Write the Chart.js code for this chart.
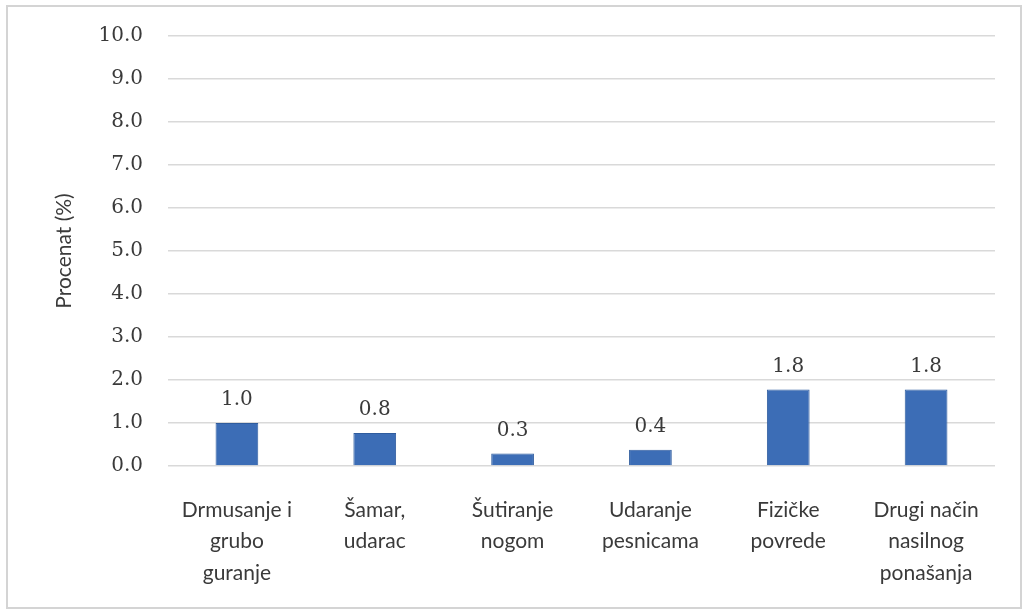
<!DOCTYPE html>
<html>
<head>
<meta charset="utf-8">
<script src="https://cdn.jsdelivr.net/npm/chart.js@4/dist/chart.umd.min.js"></script>
<style>
  html, body { margin: 0; padding: 0; background: #fff; }
  #frame {
    position: absolute; left: 6px; top: 5px;
    width: 1012px; height: 600px;
    border: 2px solid #d4d4d4;
  }
  #chart { display: block; }
</style>
</head>
<body>
<div id="frame"><canvas id="chart" width="1012" height="600"></canvas></div>
<script>
const categories = [
  ["Drmusanje i", "grubo", "guranje"],
  ["Šamar,", "udarac"],
  ["Šutiranje", "nogom"],
  ["Udaranje", "pesnicama"],
  ["Fizičke", "povrede"],
  ["Drugi način", "nasilnog", "ponašanja"]
];
const percentValues = [1.0, 0.77, 0.29, 0.38, 1.78, 1.78];
const yTicks = [0, 1, 2, 3, 4, 5, 6, 7, 8, 9, 10];

const textColor = "#3a3a3a";
const gridColor = "#d9d9d9";

// value labels drawn above each bar
const barLabels = {
  id: "barLabels",
  afterDatasetsDraw: chart => {
    const ctx = chart.ctx;
    const meta = chart.getDatasetMeta(0);
    ctx.save();
    ctx.font = "20px 'DejaVu Serif'";
    ctx.fillStyle = textColor;
    ctx.textAlign = "center";
    ctx.textBaseline = "bottom";
    meta.data.forEach((bar, i) => {
      ctx.fillText(percentValues[i].toFixed(1), bar.x, bar.y - 13);
    });
    ctx.restore();
  }
};

new Chart(document.getElementById("chart"), {
  type: "bar",
  data: {
    labels: categories,
    datasets: [{
      data: percentValues,
      backgroundColor: "#3c6db6",
      borderColor: "#2f5c9e",
      borderWidth: 1,
      barPercentage: 0.31,
      categoryPercentage: 1
    }]
  },
  options: {
    responsive: false,
    animation: false,
    layout: { padding: { left: 44, right: 25, top: 29, bottom: 0 } },
    plugins: {
      legend: { display: false },
      tooltip: { enabled: false }
    },
    scales: {
      x: {
        grid: { display: false, drawTicks: false },
        border: { display: false },
        ticks: {
          color: textColor,
          font: { family: "Lato", size: 21, lineHeight: 1.5 },
          padding: 28,
          maxRotation: 0,
          autoSkip: false
        },
        afterFit: scale => { scale.height = 141; }
      },
      y: {
        min: 0,
        max: 10,
        afterBuildTicks: scale => { scale.ticks = yTicks.map(v => ({ value: v })); },
        grid: { color: gridColor, lineWidth: 1.5, drawTicks: false },
        border: { display: false },
        ticks: {
          color: textColor,
          font: { family: "DejaVu Serif", size: 20 },
          padding: 25,
          callback: v => v.toFixed(1)
        },
        title: {
          display: true,
          text: "Procenat (%)",
          color: textColor,
          font: { family: "Lato", size: 21 },
          padding: { top: 0, bottom: 0 }
        },
        afterFit: scale => {
          scale.width = 116;
          scale.paddingTop = 0;
          scale.paddingBottom = 0;
        }
      }
    }
  },
  plugins: [barLabels]
});
</script>
</body>
</html>
